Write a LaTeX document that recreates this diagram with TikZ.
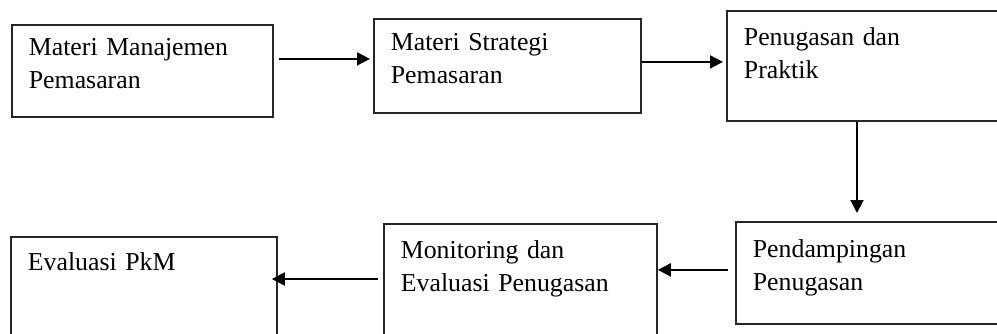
\documentclass[tikz,border=0pt]{standalone}
\usepackage{fontspec}
\setmainfont{Liberation Serif}
\usetikzlibrary{arrows.meta,positioning}
\tikzset{
  >={Triangle[length=6.5pt,width=6.5pt]},
  every node/.style={font=\fontsize{12.9pt}{16.5pt}\selectfont,text=black},
  box/.style={draw=black!85,line width=0.9pt,anchor=north west,align=left,inner xsep=8.5pt,inner ysep=0pt},
  arrow/.style={->,line width=1pt,draw=black},
}

\begin{document}
\begin{tikzpicture}[x=0.5pt,y=-0.5pt]
  \useasboundingbox (0,0) rectangle (997,333);
  \clip (0,0) rectangle (997,333);
  % top row
  \node[box,text width=113.5pt,text height=15.5pt,text depth=30.5pt] (mm) at (11,24) {Materi Manajemen\\Pemasaran};
  \node[box,text width=116.5pt,text height=16pt,text depth=31pt] (ms) at (373,18) {Materi Strategi\\Pemasaran};
  \node[box,text width=140pt,text height=17.5pt,text depth=37.5pt] (pp) at (726,10) {Penugasan dan\\Praktik};
  % bottom row
  \node[box,text width=140pt,text height=18pt,text depth=33pt] (pend) at (735,221) {Pendampingan\\Penugasan};
  \node[box,text width=119.5pt,text height=17.5pt,text depth=46pt] (mon) at (383,223) {Monitoring dan\\Evaluasi Penugasan};
  \node[box,text width=116pt,text height=17pt,text depth=40pt] (evalpkm) at (10,236) {Evaluasi PkM};

  % arrow start points
  \coordinate (s1) at ([xshift=2.5pt,yshift=6pt]mm.east);
  \coordinate (s2) at ([yshift=2pt]ms.east);
  \coordinate (s3) at ([xshift=65.5pt]pp.south west);
  \coordinate (s4) at ([xshift=-3.5pt,yshift=1.5pt]pend.west);
  \coordinate (s5) at ([xshift=-2.5pt,yshift=-28pt]mon.north west);

  \draw[arrow,shorten >=1.5pt] (s1) -- (s1 -| ms.west);
  \draw[arrow,shorten >=1.5pt] (s2) -- (s2 -| pp.west);
  \draw[arrow,shorten >=4pt] (s3) -- (s3 |- pend.north);
  \draw[arrow] (s4) -- (s4 -| mon.east);
  \draw[arrow,shorten >=-3pt] (s5) -- (s5 -| evalpkm.east);
\end{tikzpicture}
\end{document}
